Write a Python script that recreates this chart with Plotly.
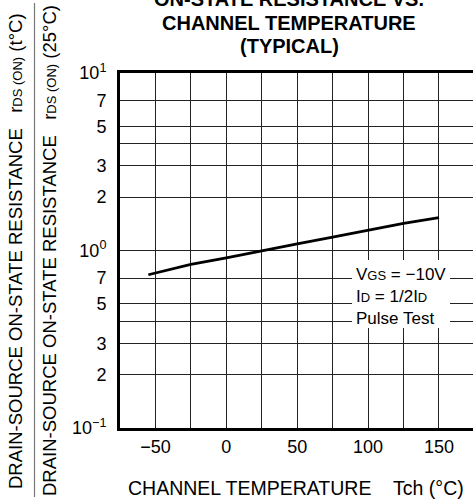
import plotly.graph_objects as go

# ---- data ----
temps = [-55, -25, 0, 25, 50, 75, 100, 125, 150]
r_norm = [0.73, 0.835, 0.91, 1.0, 1.09, 1.19, 1.30, 1.42, 1.53]

x_tickvals = [-50, -25, 0, 25, 50, 75, 100, 125, 150, 175]
x_ticktext = ["\u221250", "", "0", "", "50", "", "100", "", "150", ""]

y_tickvals = [0.1, 0.2, 0.3, 0.4, 0.5, 0.7, 1, 2, 3, 4, 5, 7, 10]
y_ticktext = ["10<sup>\u22121</sup>", "2", "3", "", "5", "7", "10<sup>0</sup>",
              "2", "3", "", "5", "7", "10<sup>1</sup>"]

FONT = "Liberation Sans, Arial, sans-serif"
W, H = 473, 504
L, T, B = 120, 73, 76
PW, PH = W - L, H - T - B
FS = 18


def px(x):
    return (x - L) / PW


def py(y):
    return (H - B - y) / PH


fig = go.Figure()
fig.add_trace(go.Scatter(x=temps, y=r_norm, mode="lines",
                         line=dict(color="black", width=2.8),
                         showlegend=False, hoverinfo="skip"))

fig.update_xaxes(range=[-75, 174], tickvals=x_tickvals, ticktext=x_ticktext,
                 showgrid=True, gridcolor="#222", gridwidth=1,
                 showline=True, linecolor="black", linewidth=3, mirror=True,
                 ticks="", ticklen=0, ticklabelstandoff=0, zeroline=False, automargin=False,
                 tickfont=dict(family=FONT, size=FS, color="black"))
fig.update_yaxes(type="log", range=[-1, 1], tickvals=y_tickvals, ticktext=y_ticktext,
                 showgrid=True, gridcolor="#222", gridwidth=1,
                 showline=True, linecolor="black", linewidth=3, mirror=False,
                 ticks="", ticklabelstandoff=7, zeroline=False, automargin=False,
                 tickfont=dict(family=FONT, size=FS, color="black"))

ann = []
# title
for txt, y in [("ON-STATE RESISTANCE VS.", -1), ("CHANNEL TEMPERATURE", 23.5), ("(TYPICAL)", 45.5)]:
    ann.append(dict(text="<b>%s</b>" % txt, xref="paper", yref="paper",
                    x=px(289), y=py(y), xanchor="center", yanchor="middle",
                    showarrow=False, font=dict(family=FONT, size=20, color="black")))
# x title
ann.append(dict(text="CHANNEL TEMPERATURE\u00a0\u00a0\u00a0\u00a0Tch (\u00b0C)", xref="paper", yref="paper",
                x=px(296), y=py(488), xanchor="center", yanchor="middle",
                showarrow=False, font=dict(family=FONT, size=19.5, color="black")))
# y titles
sm = '<span style="font-size:13px">DS (ON)</span>'
for txt, xx in [("DRAIN-SOURCE ON-STATE RESISTANCE\u00a0\u00a0\u00a0r" + sm + " (t\u00b0C)", 15),
                ("DRAIN-SOURCE ON-STATE RESISTANCE\u00a0\u00a0\u00a0r" + sm + " (25\u00b0C)", 49)]:
    ann.append(dict(text=txt, xref="paper", yref="paper", x=px(xx), y=py(251),
                    xanchor="center", yanchor="middle", textangle=-90,
                    showarrow=False, font=dict(family=FONT, size=18.5, color="black")))
# legend box text
s12 = '<span style="font-size:13px">%s</span>'
for txt, y in [("V" + s12 % "GS" + " = \u221210V", 274),
               ("I" + s12 % "D" + " = 1/2I" + s12 % "D", 296),
               ("Pulse Test", 318)]:
    ann.append(dict(text=txt, xref="paper", yref="paper", x=px(355), y=py(y),
                    xanchor="left", yanchor="middle", showarrow=False, borderpad=0,
                    font=dict(family=FONT, size=17, color="black")))

shapes = [
    dict(type="rect", xref="paper", yref="paper", x0=px(352), x1=px(450),
         y0=py(328), y1=py(260), fillcolor="white", line=dict(width=0), layer="above"),
    dict(type="line", xref="paper", yref="paper", x0=px(34.5), x1=px(34.5),
         y0=py(3), y1=py(497), line=dict(color="#777", width=1.2)),
]

fig.update_layout(width=W, height=H,
                  margin=dict(l=L, r=0, t=T, b=B, autoexpand=False),
                  paper_bgcolor="white", plot_bgcolor="white",
                  annotations=ann, shapes=shapes, showlegend=False)

fig.write_html("out.html", config={"displayModeBar": False},
               post_script="document.body.style.margin='0';")
